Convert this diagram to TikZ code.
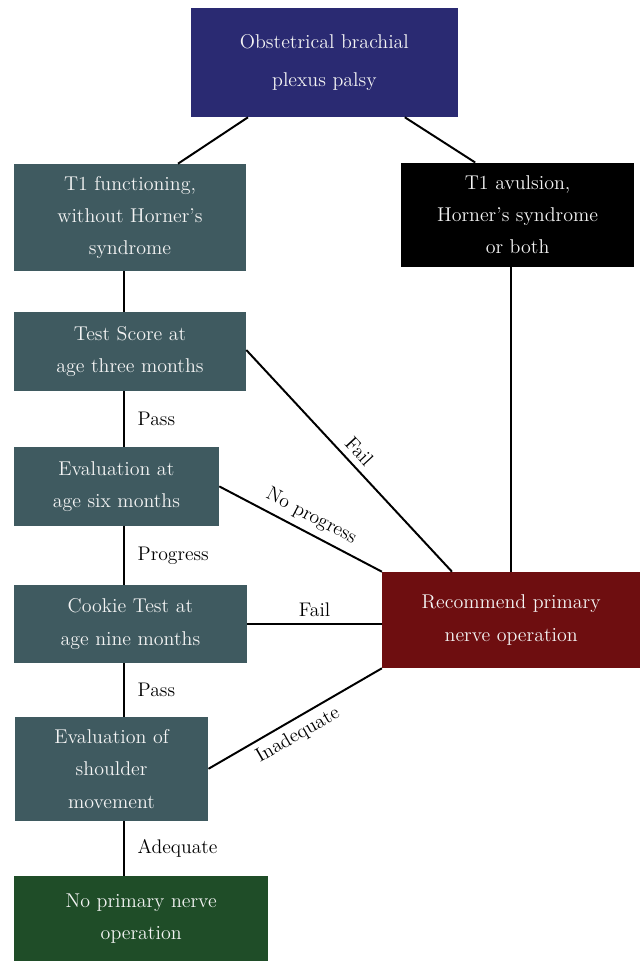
\documentclass[tikz,border=0pt]{standalone}
\definecolor{NavyTop}{HTML}{2A2A72}
\definecolor{SlateStep}{HTML}{3F5A60}
\definecolor{RedOperate}{HTML}{6E0E10}
\definecolor{GreenNone}{HTML}{1F4D28}
\definecolor{PaleText}{HTML}{F4F4F4}
\usepackage{tikz}
\usetikzlibrary{
  positioning,
  calc
}

\begin{document}
\begin{tikzpicture}[
  box/.style={
    rectangle, inner sep=2pt, align=center,
    font=\fontsize{14.2}{23}\selectfont, text=PaleText
  },
  link/.style={line width=1.4pt},
  lbl/.style={font=\fontsize{14}{16}\selectfont, text=black}
]
  \useasboundingbox (0,0) rectangle (16.05,24.05);

  % Top box
  \node[box, fill=NavyTop, minimum width=6.68cm, minimum height=2.73cm,
    font=\fontsize{14.2}{27}\selectfont] (palsy) at (8.11,22.49)
    {Obstetrical brachial\\plexus palsy};

  % Two branches
  \node[box, fill=SlateStep, minimum width=5.8cm, minimum height=2.68cm]
    (t1fun) at (3.25,18.61) {T1 functioning,\\without Horner's\\syndrome};
  \node[box, fill=black, minimum width=5.83cm, minimum height=2.6cm]
    (t1avu) at (12.94,18.68) {T1 avulsion,\\Horner's syndrome\\or both};

  % Left column of checks
  \node[box, fill=SlateStep, minimum width=5.8cm, minimum height=1.98cm]
    (score) at (3.25,15.26) {Test Score at\\age three months};
  \node[box, fill=SlateStep, minimum width=5.13cm, minimum height=1.98cm]
    (sixmo) at (2.91,11.89) {Evaluation at\\age six months};
  \node[box, fill=SlateStep, minimum width=5.83cm, minimum height=1.95cm]
    (cookie) at (3.26,8.45) {Cookie Test at\\age nine months};
  \node[box, fill=SlateStep, minimum width=4.83cm, minimum height=2.6cm]
    (shoulder) at (2.79,4.83) {Evaluation of\\shoulder\\movement};

  % Outcomes
  \node[box, fill=RedOperate, minimum width=6.45cm, minimum height=2.4cm]
    (operate) at (12.78,8.55) {Recommend primary\\nerve operation};
  \node[box, fill=GreenNone, minimum width=6.35cm, minimum height=2.13cm]
    (noop) at (3.53,1.09) {No primary nerve\\operation};

  % Spine of the left column
  \coordinate (spine) at (3.1,0);

  % Connectors from the top
  \draw[link] ([xshift=-1.91cm]palsy.south) -- ([xshift=1.2cm]t1fun.north);
  \draw[link] ([xshift=2.01cm]palsy.south) -- ([xshift=-1.06cm]t1avu.north);

  % Left column
  \draw[link] (t1fun.south -| spine) -- (score.north -| spine);
  \draw[link] (score.south -| spine) -- (sixmo.north -| spine)
    node[lbl, midway, right=0.2cm] {Pass};
  \draw[link] (sixmo.south -| spine) -- (cookie.north -| spine)
    node[lbl, midway, right=0.2cm] {Progress};
  \draw[link] (cookie.south -| spine) -- (shoulder.north -| spine)
    node[lbl, midway, right=0.2cm] {Pass};
  \draw[link] (shoulder.south -| spine) -- (noop.north -| spine)
    node[lbl, midway, right=0.2cm] {Adequate};

  % Right column
  \draw[link] (t1avu.south -| operate.north) -- (operate.north);

  % Towards the operation
  \draw[link] ([yshift=0.04cm]score.east) -- ([xshift=-1.48cm]operate.north)
    node[lbl, pos=0.5, sloped, above=1pt] {Fail};
  \draw[link] (sixmo.east) -- (operate.north west)
    node[lbl, pos=0.52, sloped, above=1pt] {No progress};
  \draw[link] (cookie.east) -- (cookie.east -| operate.west)
    node[lbl, midway, above=1pt] {Fail};
  \draw[link] (shoulder.east) -- (operate.south west)
    node[lbl, pos=0.47, sloped, below=1pt] {Inadequate};
\end{tikzpicture}
\end{document}
